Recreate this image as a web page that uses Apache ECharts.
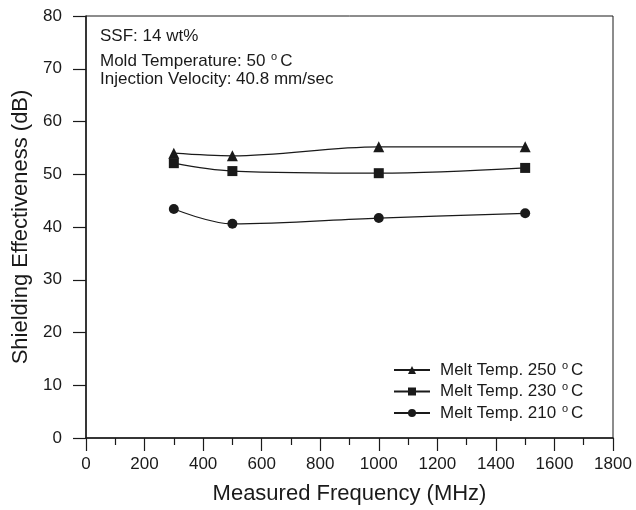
<!DOCTYPE html>
<html>
<head>
<meta charset="utf-8">
<script src="https://cdn.jsdelivr.net/npm/echarts@6/dist/echarts.min.js"></script>
<style>
  html, body { margin: 0; padding: 0; background: #fff; }
  #chart { width: 636px; height: 510px; }
</style>
</head>
<body>
<div id="chart"></div>
<script>
// frequencies (MHz)
const freqs = [300, 500, 1000, 1500];
// shielding effectiveness (dB) per melt temperature
const se250 = [54.0, 53.5, 55.2, 55.2];
const se230 = [52.1, 50.6, 50.2, 51.2];
const se210 = [43.4, 40.6, 41.7, 42.6];
const seriesNames = ['Melt Temp. 250 °C', 'Melt Temp. 230 °C', 'Melt Temp. 210 °C'];
const symbols = ['triangle', 'rect', 'circle'];
const xTicks = [0, 200, 400, 600, 800, 1000, 1200, 1400, 1600, 1800];
const yTicks = [0, 10, 20, 30, 40, 50, 60, 70, 80];

const font = 'Liberation Sans, Arial, sans-serif';
const ink = '#1a1a1a';

let myChart = echarts.init(document.getElementById('chart'));

// 上标 o 代替 °
const supText = (s) => s.replace('°', '{sup|o}');
const supRich = {
  sup: { fontSize: 11, fontFamily: font, color: ink, padding: [0, 3, 9, 1] }
};

const allData = [se250, se230, se210];

myChart.setOption({
  animation: false,
  grid: {
    left: 86, right: 23, top: 16, bottom: 72,
    show: true, borderColor: ink, borderWidth: 1
  },
  title: [
    { text: 'SSF: 14 wt%', left: 100, top: 28, padding: 0,
      textStyle: { fontSize: 17, fontWeight: 'normal', fontFamily: font, color: ink } },
    { text: supText('Mold Temperature: 50 °C'), left: 100, top: 51, padding: 0,
      textStyle: { fontSize: 17, fontWeight: 'normal', fontFamily: font, color: ink, rich: supRich } },
    { text: 'Injection Velocity: 40.8 mm/sec', left: 100, top: 71, padding: 0,
      textStyle: { fontSize: 17, fontWeight: 'normal', fontFamily: font, color: ink } }
  ],
  legend: {
    orient: 'vertical',
    left: 388, top: 355,
    itemWidth: 36, itemHeight: 10, itemGap: 3,
    data: seriesNames,
    formatter: (name) => supText(name),
    textStyle: { fontSize: 17, fontFamily: font, color: ink, padding: [0, 0, 0, 5], rich: supRich }
  },
  xAxis: {
    type: 'value',
    min: xTicks[0], max: xTicks[xTicks.length - 1], interval: 200,
    name: 'Measured Frequency (MHz)',
    nameLocation: 'middle', nameGap: 45,
    nameTextStyle: { fontSize: 22, fontFamily: font, color: ink },
    axisLine: { lineStyle: { color: ink, width: 1.5 } },
    axisTick: { show: true, inside: false, length: 13, lineStyle: { color: ink, width: 1.2 } },
    minorTick: { show: true, splitNumber: 2, length: 7, lineStyle: { color: ink, width: 1.2 } },
    axisLabel: { fontSize: 17, fontFamily: font, color: ink, margin: 18,
      formatter: (v) => String(v) },
    splitLine: { show: false }
  },
  yAxis: {
    type: 'value',
    min: yTicks[0], max: yTicks[yTicks.length - 1], interval: 10,
    name: 'Shielding Effectiveness (dB)',
    nameLocation: 'middle', nameGap: 53,
    nameTextStyle: { fontSize: 22, fontFamily: font, color: ink },
    axisLine: { lineStyle: { color: ink, width: 1.5 } },
    axisTick: { show: true, inside: false, length: 13, lineStyle: { color: ink, width: 1.2 } },
    axisLabel: { fontSize: 17, fontFamily: font, color: ink, margin: 24 },
    splitLine: { show: false }
  },
  series: seriesNames.map((name, i) => ({
    name: name,
    type: 'line',
    smooth: 0.35,
    symbol: symbols[i],
    symbolSize: i === 0 ? 11 : 10,
    color: ink,
    lineStyle: { color: ink, width: 1.2 },
    itemStyle: { color: ink },
    data: freqs.map((f, j) => [f, allData[i][j]])
  }))
});

window.addEventListener('resize', () => {
  if (myChart) {
    myChart.resize();
  }
});
</script>
</body>
</html>
